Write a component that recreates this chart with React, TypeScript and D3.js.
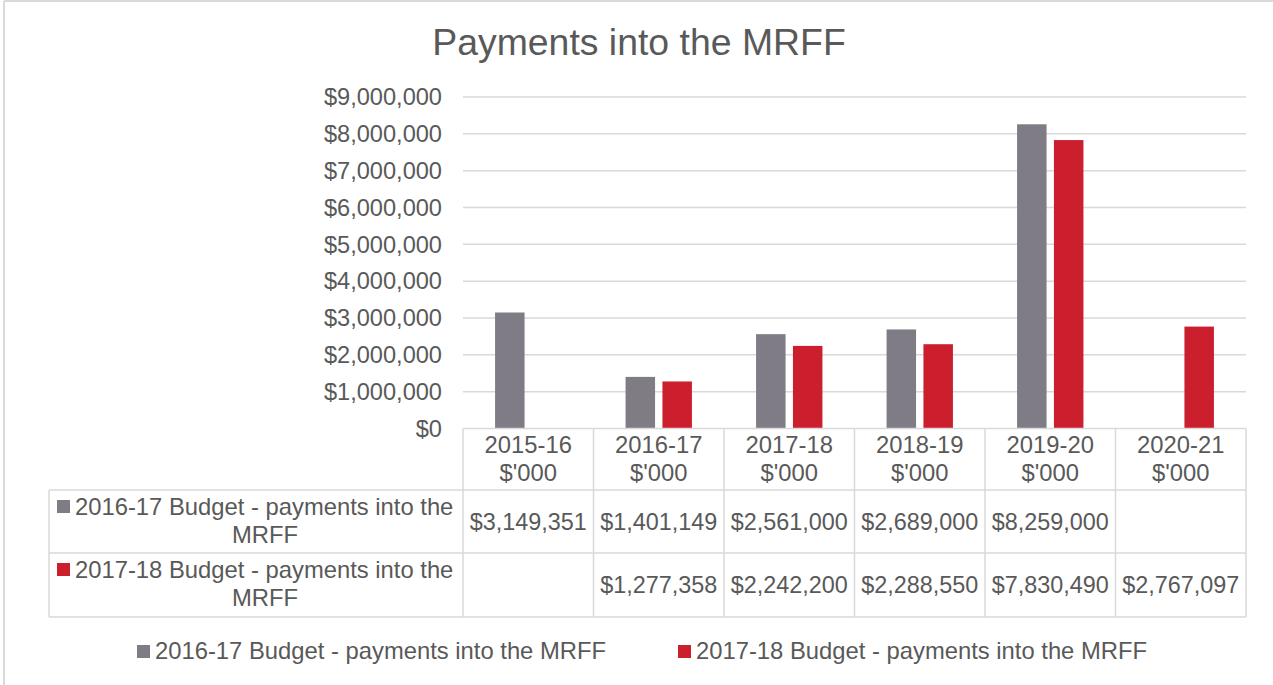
import React, { useEffect, useRef } from "react";
import * as d3 from "d3";

// chart data
const years = ["2015-16", "2016-17", "2017-18", "2018-19", "2019-20", "2020-21"];
const unitLabel = "$'000";
const seriesNames = [
  "2016-17 Budget - payments into the MRFF",
  "2017-18 Budget - payments into the MRFF",
];
const budget2016 = [3149351, 1401149, 2561000, 2689000, 8259000, null];
const budget2017 = [null, 1277358, 2242200, 2288550, 7830490, 2767097];
const yTicks = [0, 1000000, 2000000, 3000000, 4000000, 5000000, 6000000, 7000000, 8000000, 9000000];

const colors = ["#7f7c85", "#cc1f2e"];
const textColor = "#595959";
const lineColor = "#d9d9d9";
const font = "'Liberation Sans', Arial, sans-serif";

export default function App() {
  const ref = useRef<SVGSVGElement>(null);

  useEffect(() => {
    const width = 1273,
      height = 685;
    const svg = d3.select(ref.current);
    svg.selectAll("*").remove();
    svg.attr("width", width).attr("height", height);

    const left = 463,
      right = 1246,
      top = 97,
      bottom = 428.5;

    // chart border (left + top only visible)
    svg.append("line").attr("x1", 4).attr("x2", 4).attr("y1", 1).attr("y2", height)
      .attr("stroke", lineColor).attr("stroke-width", 2);
    svg.append("line").attr("x1", 4).attr("x2", width).attr("y1", 1).attr("y2", 1)
      .attr("stroke", lineColor).attr("stroke-width", 2);

    svg.append("text")
      .attr("x", 639).attr("y", 55)
      .attr("text-anchor", "middle")
      .attr("font-family", font).attr("font-size", 37.4)
      .attr("fill", textColor)
      .text("Payments into the MRFF");

    const x0 = d3.scaleBand().domain(years).range([left, right]);
    const x1 = d3.scaleBand<number>()
      .domain([0, 1])
      .range([0, x0.bandwidth()])
      .paddingInner(0.2)
      .paddingOuter(0.87);
    const y = d3.scaleLinear().domain([0, 9000000]).range([bottom, top]);

    const fmt = d3.format("$,");

    // gridlines
    svg.append("g").selectAll("line")
      .data(yTicks.slice(1))
      .enter().append("line")
      .attr("x1", left).attr("x2", right)
      .attr("y1", d => y(d)).attr("y2", d => y(d))
      .attr("stroke", lineColor).attr("stroke-width", 1.5);

    // y labels
    svg.append("g").selectAll("text")
      .data(yTicks)
      .enter().append("text")
      .attr("x", 442).attr("y", d => y(d) + 8.3)
      .attr("text-anchor", "end")
      .attr("font-family", font).attr("font-size", 23.6)
      .attr("fill", textColor)
      .text(d => fmt(d));

    // bars
    const allSeries = [budget2016, budget2017];
    allSeries.forEach((vals, si) => {
      svg.append("g").selectAll("rect")
        .data(vals.map((v, i) => ({ v, year: years[i] })).filter(d => d.v != null))
        .enter().append("rect")
        .attr("x", d => (x0(d.year) as number) + (x1(si) as number))
        .attr("width", x1.bandwidth())
        .attr("y", d => y(d.v as number))
        .attr("height", d => bottom - y(d.v as number))
        .attr("fill", colors[si]);
    });

    // data table
    const rowTops = [428.5, 490, 553, 617];
    const tableLeft = 49;
    const tbl = svg.append("g").attr("stroke", lineColor).attr("stroke-width", 1.5).attr("fill", "none");
    tbl.append("line").attr("x1", left).attr("x2", right).attr("y1", rowTops[0]).attr("y2", rowTops[0]);
    [rowTops[1], rowTops[2], rowTops[3]].forEach(yy => {
      tbl.append("line").attr("x1", tableLeft).attr("x2", right).attr("y1", yy).attr("y2", yy);
    });
    tbl.append("line").attr("x1", tableLeft).attr("x2", tableLeft).attr("y1", rowTops[1]).attr("y2", rowTops[3]);
    years.forEach(yr => {
      const xx = x0(yr) as number;
      tbl.append("line").attr("x1", xx).attr("x2", xx).attr("y1", rowTops[0]).attr("y2", rowTops[3]);
    });
    tbl.append("line").attr("x1", right).attr("x2", right).attr("y1", rowTops[0]).attr("y2", rowTops[3]);

    // headers
    const hdr = svg.append("g").attr("font-family", font).attr("font-size", 23.8)
      .attr("fill", textColor).attr("text-anchor", "middle");
    years.forEach(yr => {
      const cx = (x0(yr) as number) + x0.bandwidth() / 2;
      hdr.append("text").attr("x", cx).attr("y", 453).text(yr);
      hdr.append("text").attr("x", cx).attr("y", 481).text(unitLabel);
    });

    // row labels + values
    const lineBase = [515, 578];
    const valBase = [530, 593];
    allSeries.forEach((vals, si) => {
      const g = svg.append("g").attr("font-family", font).attr("fill", textColor);
      g.append("rect").attr("x", 57).attr("y", lineBase[si] - 15).attr("width", 13).attr("height", 13)
        .attr("fill", colors[si]);
      g.append("text").attr("x", 75).attr("y", lineBase[si]).attr("font-size", 23.8)
        .text(seriesNames[si].replace(" MRFF", ""));
      g.append("text").attr("x", 265).attr("y", lineBase[si] + 28).attr("font-size", 23.8)
        .attr("text-anchor", "middle").text("MRFF");
      vals.forEach((v, i) => {
        if (v == null) return;
        g.append("text")
          .attr("x", (x0(years[i]) as number) + x0.bandwidth() / 2)
          .attr("y", valBase[si])
          .attr("text-anchor", "middle")
          .attr("font-size", 23.4)
          .text(fmt(v));
      });
    });

    // legend
    const legendX = [137, 678];
    seriesNames.forEach((name, si) => {
      const g = svg.append("g").attr("transform", `translate(${legendX[si]},0)`);
      g.append("rect").attr("x", 0).attr("y", 645).attr("width", 13).attr("height", 13).attr("fill", colors[si]);
      g.append("text").attr("x", 18).attr("y", 659)
        .attr("font-family", font).attr("font-size", 23.8).attr("fill", textColor)
        .text(name);
    });
  }, []);

  return (
    <div>
      <svg ref={ref} style={{ position: "absolute", left: 0, top: 0, background: "#fff" }}></svg>
    </div>
  );
}
